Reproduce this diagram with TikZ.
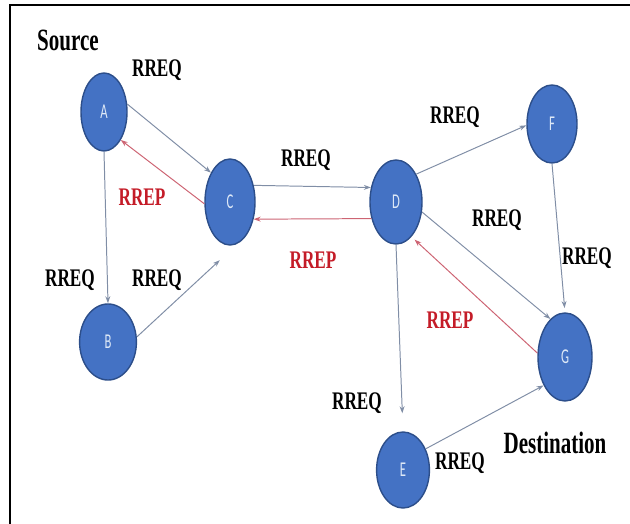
\documentclass[tikz,border=0pt]{standalone}
\usepackage{fontspec}
\setmainfont{Liberation Serif}
\newfontfamily\condfont{Liberation Serif}[FakeStretch=0.68]
\newfontfamily\peerfont{Carlito}[FakeStretch=0.6]
\usetikzlibrary{shapes.geometric,arrows.meta}
\definecolor{peerblue}{RGB}{68,114,196}
\definecolor{peerrim}{RGB}{44,78,138}
\definecolor{peertext}{RGB}{222,233,247}
\definecolor{reqline}{RGB}{128,142,166}
\definecolor{repline}{RGB}{205,100,115}
\definecolor{reptext}{RGB}{196,28,40}
\tikzset{
  peer/.style={ellipse, fill=peerblue, draw=peerrim, line width=1pt,
    minimum width=1.3cm, minimum height=2cm, inner sep=0pt,
    text=peertext, font=\peerfont\fontsize{15}{15}\selectfont},
  req/.style={draw=reqline, line width=0.7pt, -{Stealth[length=5pt,width=3.5pt]}},
  rep/.style={req, draw=repline},
  msg/.style={font=\condfont\bfseries\fontsize{18}{18}\selectfont, inner sep=0pt},
  repmsg/.style={msg, text=reptext},
  role/.style={inner sep=0pt, font=\condfont\bfseries\fontsize{22}{22}\selectfont}
}
\begin{document}
\begin{tikzpicture}[x=0.025cm, y=-0.025cm]
  \useasboundingbox (0,0) rectangle (630,524);
  %% frame
  \draw[line width=1.8pt] (10,540) -- (10,5) -- (640,5);

  %% nodes
  \node[peer, minimum width=1.15cm, minimum height=1.95cm] (A) at (104,112) {A};
  \node[peer, minimum width=1.42cm, minimum height=1.9cm] (B) at (108,342) {B};
  \node[peer, minimum width=1.25cm, minimum height=2.15cm] (C) at (230,202) {C};
  \node[peer, minimum width=1.3cm, minimum height=2.1cm] (D) at (396,202) {D};
  \node[peer, minimum width=1.25cm, minimum height=1.95cm] (F) at (552,124) {F};
  \node[peer, minimum width=1.35cm, minimum height=2.2cm] (G) at (565,357) {G};
  \node[peer, minimum width=1.32cm, minimum height=1.9cm] (E) at (403,470) {E};

  %% route request
  \draw[req] (A.19) -- (C.123);
  \draw[req] (A.south) -- (B.north);
  \draw[req, shorten >=0.6cm] (B.10) -- (C.280);
  \draw[req] (C.35) -- (D.150);
  \draw[req] (D.54) -- (F.183);
  \draw[req] (D.339) -- (G.111);
  \draw[req, shorten >=3pt] (F.south) -- (G.north);
  \draw[req, shorten >=0.45cm] (D.south) -- (E.north);
  \draw[req] (E.43) -- (G.233);

  %% route reply
  \draw[rep] (C.184) -- (A.301);
  \draw[rep] (D.214) -- (C.324);
  \draw[rep, shorten >=3pt] (G.172) -- (D.294);

  %% labels
  \node[role] (src) at (68,40) {Source};
  \node[role] (dst) at (555,443) {Destination};

  \node[msg] (q1) at (157,70) {RREQ};
  \node[msg] (q2) at (306,160) {RREQ};
  \node[msg] (q3) at (70,280) {RREQ};
  \node[msg] (q4) at (157,280) {RREQ};
  \node[msg] (q5) at (455,117) {RREQ};
  \node[msg] (q6) at (497,220) {RREQ};
  \node[msg] (q7) at (587,258) {RREQ};
  \node[msg] (q8) at (357,403) {RREQ};
  \node[msg] (q9) at (460,463) {RREQ};

  \node[repmsg] (p1) at (142,197) {RREP};
  \node[repmsg] (p2) at (313,260) {RREP};
  \node[repmsg] (p3) at (450,320) {RREP};
\end{tikzpicture}
\end{document}
